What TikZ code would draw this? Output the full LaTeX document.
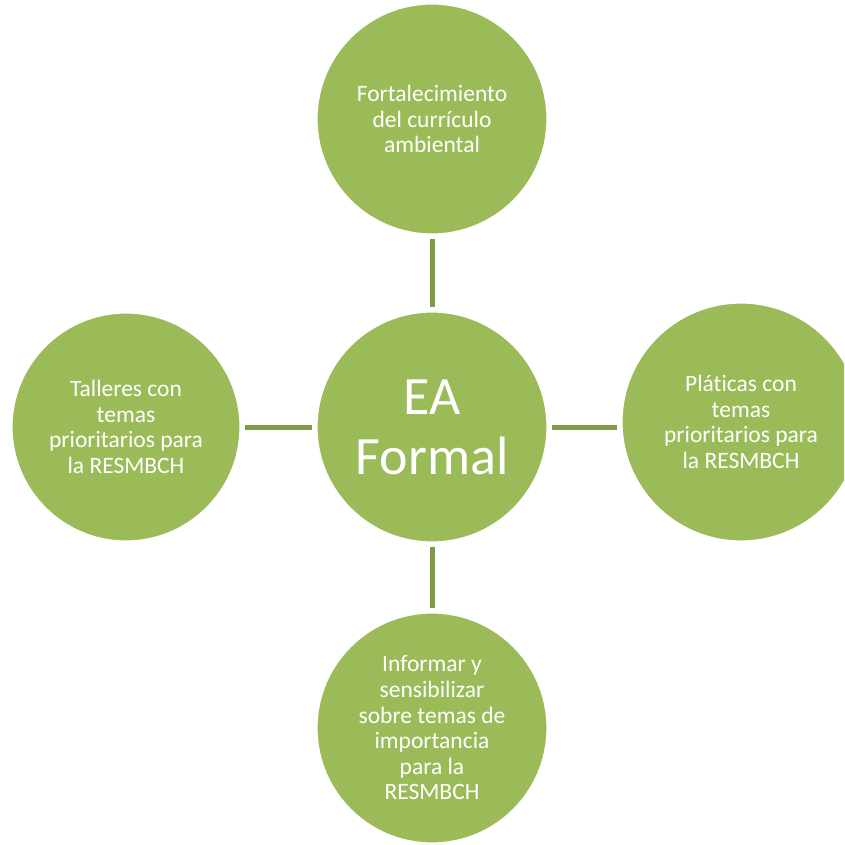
\documentclass[tikz,border=0pt]{standalone}
\usepackage{fontspec}
\setmainfont{Carlito}[Ligatures=NoCommon]
\definecolor{bubble}{HTML}{9BBB59}
\definecolor{link}{HTML}{7E9B49}
\begin{document}
\begin{tikzpicture}[x=1pt,y=-1pt,
  bubble/.style={circle,fill=bubble,draw=white,line width=1.2pt,inner sep=0pt,
    minimum size=#1,text=white,align=center,
    font=\fontsize{23.5}{25.6}\selectfont},
  hub/.style={circle,fill=bubble,draw=white,line width=1.2pt,inner sep=0pt,
    minimum size=230pt,text=white,align=center,
    font=\fontsize{54}{60}\selectfont},
  link/.style={draw=link,line width=5pt,shorten <=4pt,shorten >=4pt}]
\useasboundingbox (0,0) rectangle (844,845);
\clip (0,0) rectangle (844,845);
\fill[white] (0,0) rectangle (844,845);
\node[hub] (c) at (432,427) {EA\\Formal};
\node[bubble=230pt] (t) at (432,119) {Fortalecimiento\\del currículo\\ambiental};
\node[bubble=228pt] (l) at (126,427) {Talleres con\\temas\\prioritarios para\\la RESMBCH};
\node[bubble=238pt] (r) at (741,422) {Pláticas con\\temas\\prioritarios para\\la RESMBCH};
\node[bubble=230pt] (b) at (432,728) {Informar y\\sensibilizar\\sobre temas de\\importancia\\para la\\RESMBCH};
\draw[link] (t.south) -- (c.north);
\draw[link] (l.east) -- (c.west);
\draw[link] (c.east) -- (r.west |- c.east);
\draw[link] (c.south) -- (b.north);
\end{tikzpicture}
\end{document}
